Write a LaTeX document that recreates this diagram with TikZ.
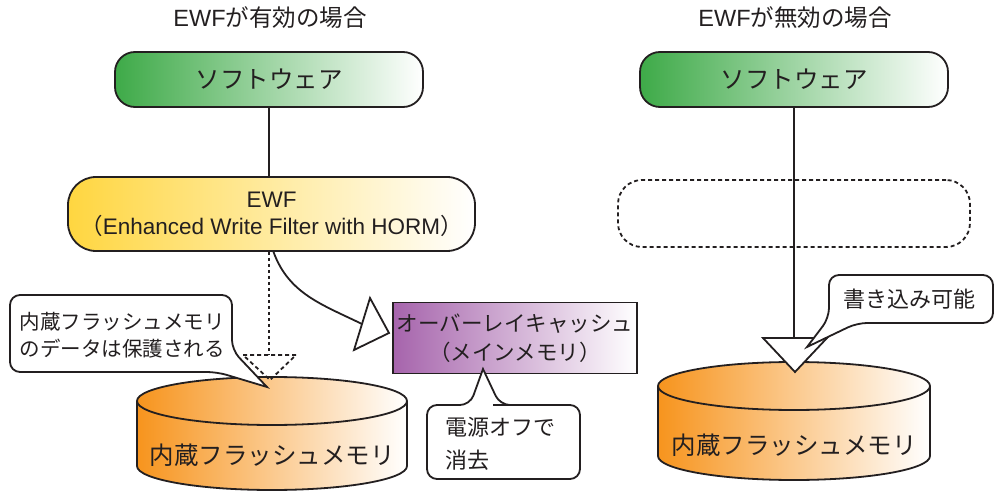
\documentclass[tikz,border=0pt]{standalone}
\usepackage{fontspec}
\setmainfont{Noto Sans CJK JP}
\newfontfamily\latinfont{Liberation Sans}
\usetikzlibrary{positioning}
\definecolor{swgreen}{RGB}{62,170,72}
\definecolor{ewfyellow}{RGB}{255,214,64}
\definecolor{ovlpurple}{RGB}{166,100,172}
\definecolor{flashorange}{RGB}{247,148,29}
\definecolor{ink}{RGB}{35,31,32}
\tikzstyle{swbox} = [draw=ink, line width=1.8pt, rounded corners=20pt,
    minimum width=308pt, minimum height=55pt, left color=swgreen, right color=white,
    text=ink, font=\fontsize{24.5}{28}\selectfont]
\tikzstyle{ewfbox} = [draw=ink, line width=1.8pt, rounded corners=28pt,
    minimum width=407pt, minimum height=74pt, left color=ewfyellow, right color=white,
    text=ink, align=center, font=\fontsize{22.5}{27}\selectfont]
\tikzstyle{ghostbox} = [draw=ink, line width=1.8pt, dash pattern=on 4pt off 3pt,
    rounded corners=24pt, minimum width=352pt, minimum height=67pt]
\tikzstyle{ovlbox} = [draw=ink, line width=1.8pt, minimum width=244pt, minimum height=71pt,
    left color=ovlpurple, right color=white, text=ink, align=center,
    font=\fontsize{21.5}{29}\selectfont]
\tikzstyle{callout} = [draw=ink, line width=1.8pt, fill=white, rounded corners=10pt]
\tikzstyle{drum} = [draw=ink, line width=1.8pt, left color=flashorange, right color=white]
\tikzstyle{wire} = [draw=ink, line width=1.8pt]
\tikzstyle{gate} = [draw=ink, line width=1.8pt, fill=white, line join=miter]
\tikzstyle{heading} = [text=ink, font=\fontsize{23.5}{28}\selectfont]
\tikzstyle{note} = [text=ink, align=left, font=\fontsize{20.5}{27}\selectfont]
\tikzstyle{drumlabel} = [text=ink, font=\fontsize{24.5}{28}\selectfont]

\begin{document}
\begin{tikzpicture}[x=1pt, y=-1pt]
    \useasboundingbox (0,0) rectangle (994,492);

    % headings
    \node[heading] (head1) at (270,18) {{\latinfont EWF}が有効の場合};
    \node[heading] (head2) at (795,18) {{\latinfont EWF}が無効の場合};

    % left: EWF enabled
    \node[swbox] (sw1) at (269,79.5) {ソフトウェア};
    \node[ewfbox] (ewf1) at (271.5,214) {{\latinfont EWF}\\（{\latinfont Enhanced Write Filter with HORM}）};
    \draw[wire] (sw1.south) -- (ewf1.north -| sw1.south);

    \draw[drum] (137,401) -- (137,466) arc[start angle=180, end angle=360, x radius=135pt, y radius=24pt]
        -- (407,401) arc[start angle=0, end angle=180, x radius=135pt, y radius=24pt] -- cycle;
    \draw[ink, line width=1.8pt] (137,401) arc[start angle=180, end angle=360, x radius=135pt, y radius=24pt];
    \node[drumlabel] (flash1) at (272,455) {内蔵フラッシュメモリ};

    \node[ovlbox] (ovl) at (515,338) {オーバーレイキャッシュ\\（メインメモリ）};

    \coordinate (guardL) at (269,355);
    \draw[wire, dash pattern=on 3pt off 3pt] (ewf1.south -| guardL) -- (guardL);
    \draw[gate, fill=none, dash pattern=on 4pt off 3pt] (243,355) -- (296,355) -- (270,380) -- cycle;

    \coordinate (ovlIn) at (362,324);
    \draw[wire] ([xshift=2pt]ewf1.south) to[out=-70, in=154] (ovlIn);
    \draw[gate] (370,298) -- (389,333) -- (354,350) -- cycle;

    \draw[callout] (121,295) -- (232,295) -- (232,350) [sharp corners] -- (267,387)
        [rounded corners=10pt] -- (217,372) -- (10,372) -- (10,295) -- cycle;
    \node[note, anchor=west] (keep) at (16,335.5) {内蔵フラッシュメモリ\\のデータは保護される};

    \draw[callout] (503,405) -- (580,405) -- (580,479) -- (427,479) -- (427,405) -- (470,405)
        [sharp corners] -- (483,369) [rounded corners=10pt] -- (500,405) -- cycle;
    \node[note, anchor=west, font=\fontsize{22}{33}\selectfont] (lost) at (442,443.5) {電源オフで\\消去};

    % right: EWF disabled
    \node[swbox] (sw2) at (794,79.5) {ソフトウェア};
    \node[ghostbox] (ghost) at (794,213.5) {};

    \draw[drum] (658,386) -- (658,456) arc[start angle=180, end angle=360, x radius=136pt, y radius=24pt]
        -- (930,386) arc[start angle=0, end angle=180, x radius=136pt, y radius=24pt] -- cycle;
    \draw[ink, line width=1.8pt] (658,386) arc[start angle=180, end angle=360, x radius=136pt, y radius=24pt];
    \node[drumlabel] (flash2) at (794,445) {内蔵フラッシュメモリ};

    \coordinate (gateR) at (794,338);
    \draw[wire] (sw2.south) -- (gateR);
    \draw[gate] (763,338) -- (827,338) -- (795,372) -- cycle;

    \draw[callout] (910,275) -- (993,275) -- (993,323) -- (857,323) [sharp corners] -- (807,347)
        [rounded corners=10pt] -- (829,318) -- (829,275) -- cycle;
    \node[note, font=\fontsize{22}{27}\selectfont] (writable) at (909,299) {書き込み可能};
\end{tikzpicture}
\end{document}
